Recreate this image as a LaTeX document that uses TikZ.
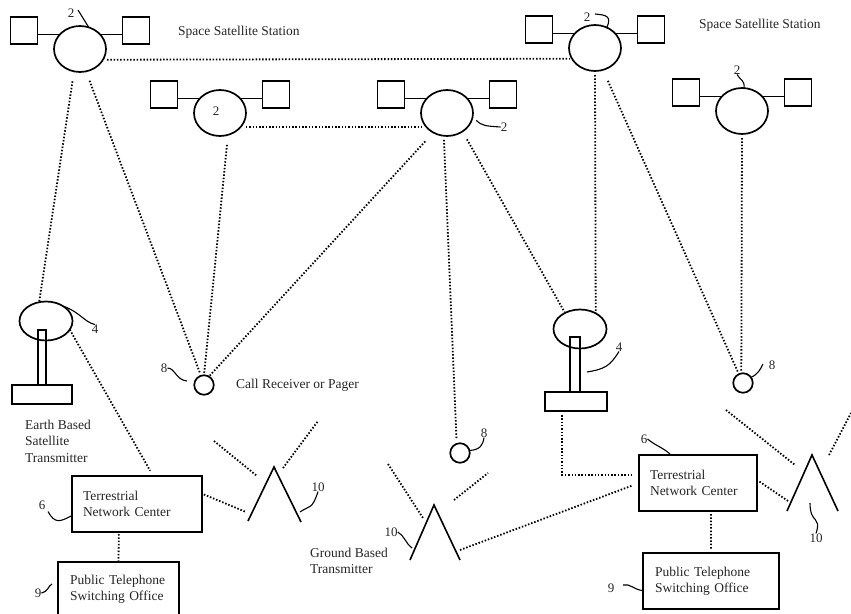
\documentclass[tikz,border=0pt]{standalone}
\usepackage{fontspec}
\setmainfont{Liberation Serif}
\usetikzlibrary{shapes.geometric}
\tikzset{
  solidline/.style={line width=1.7pt,draw=black},
  sat/.style={solidline,ellipse,inner sep=0pt,outer sep=0pt,minimum width=52pt,minimum height=46pt},
  panel/.style={solidline,rectangle,inner sep=0pt,outer sep=0pt,minimum width=27pt,minimum height=27pt},
  dish/.style={solidline,ellipse,inner sep=0pt,outer sep=0pt,minimum width=53pt,minimum height=39pt},
  pager/.style={solidline,circle,inner sep=0pt,outer sep=0pt,minimum size=19.5pt},
  plainbox/.style={solidline,rectangle,inner sep=0pt,outer sep=0pt},
  textbox/.style={plainbox,align=left,font=\fontsize{13.5}{16}\selectfont,text=black!85},
  caption/.style={inner sep=0pt,align=left,font=\fontsize{13.5}{16.5}\selectfont,text=black!85},
  numlabel/.style={inner sep=0pt,font=\fontsize{13}{15}\selectfont,text=black!85},
  leader/.style={line width=1.1pt,draw=black},
  dotlink/.style={line width=1.8pt,draw=black,dash pattern=on 1.5pt off 1.8pt},
  antenna/.style={line width=1.6pt,draw=black},
}
\newcommand{\satgroup}[3]{%
  \node[sat] (s#1) at (#2,#3) {};
  \node[panel] (s#1l) at (#2-56,#3-18.5) {};
  \node[panel] (s#1r) at (#2+56,#3-18.5) {};
  \draw[solidline] (s#1l.-17) -- (s#1l.-17 -| s#1.147);
  \draw[solidline] (s#1r.-163) -- (s#1r.-163 -| s#1.33);
}
\begin{document}
\begin{tikzpicture}[x=1pt,y=-1pt]
\path[use as bounding box,fill=white] (0,0) rectangle (851,613);
\clip (0,0) rectangle (851,613);

% satellites
\satgroup{a}{80}{49}
\satgroup{b}{220}{113}
\satgroup{c}{447}{113}
\satgroup{d}{595}{48}
\satgroup{e}{742}{111}

% dishes
\node[dish] (dish1) at (46,321) {};
\node[plainbox,minimum width=8pt,minimum height=55pt] (mast1) at (42,357.5) {};
\node[plainbox,minimum width=60pt,minimum height=19pt] (base1) at (42,394.5) {};
\node[dish] (dish2) at (580,329) {};
\node[plainbox,minimum width=10pt,minimum height=55pt] (mast2) at (575,364.5) {};
\node[plainbox,minimum width=62pt,minimum height=19pt] (base2) at (576,401.5) {};

% pagers
\node[pager] (pager1) at (204,385) {};
\node[pager] (pager2) at (460,453) {};
\node[pager] (pager3) at (743,383) {};

% boxes
\node[textbox,minimum width=130pt,minimum height=56pt,text width=108pt] (tnc1) at (137,504) {Terrestrial\\Network Center};
\node[textbox,minimum width=121pt,minimum height=54pt,text width=97pt] (pso1) at (118.5,589) {Public Telephone\\Switching Office};
\node[textbox,minimum width=118pt,minimum height=56pt,text width=96pt] (tnc2) at (698,483) {Terrestrial\\Network Center};
\node[textbox,minimum width=136pt,minimum height=56pt,text width=112pt] (pso2) at (711,581) {Public Telephone\\Switching Office};

% antennas
\coordinate (ant1t) at (274,467);
\coordinate (ant1l) at (248,521);
\coordinate (ant1r) at (301,522);
\coordinate (ant2t) at (434,505);
\coordinate (ant2l) at (410,560);
\coordinate (ant2r) at (460,560);
\coordinate (ant3t) at (812,455);
\coordinate (ant3l) at (787,511);
\coordinate (ant3r) at (838,511);
\draw[antenna] (ant1l) -- (ant1t) -- (ant1r);
\draw[antenna] (ant2l) -- (ant2t) -- (ant2r);
\draw[antenna] (ant3l) -- (ant3t) -- (ant3r);

% free ends of links
\coordinate (ant1port) at (246,512);
\coordinate (ant2port) at (460,550);
\coordinate (ant3port) at (788,501);
\coordinate (sig1a) at (214,441);
\coordinate (sig1b) at (257,476);
\coordinate (sig1c) at (283,468);
\coordinate (sig1d) at (318,421);
\coordinate (sig2a) at (388,464);
\coordinate (sig2b) at (423,518);
\coordinate (sig2c) at (454,500);
\coordinate (sig2d) at (488,473);
\coordinate (sig3a) at (726,410);
\coordinate (sig3b) at (795,465);
\coordinate (sig3c) at (829,455);
\coordinate (sig3d) at (851,413);

% dotted links
\draw[dotlink,shorten <=4pt,shorten >=2pt] (sa.-25) -- (sd.-155);
\draw[dotlink,shorten <=5pt,shorten >=5pt] (sb.-33) -- (sc.-147);
\draw[dotlink,shorten <=10pt] (sa.-105) -- (dish1.110);
\draw[dotlink,shorten <=10pt,shorten >=2pt] (sa.-75) -- (pager1.108);
\draw[dotlink,shorten <=10pt,shorten >=1pt] (sb.-70) -- (pager1.90);
\draw[dotlink,shorten <=12pt,shorten >=1pt] (sc.-125) -- (pager1.60);
\draw[dotlink,shorten <=4pt,shorten >=4pt] (sc.-98) -- (pager2.110);
\draw[dotlink,shorten <=9pt,shorten >=1pt] (sc.-50) -- (dish2.133);
\draw[dotlink,shorten <=4pt] (sd.-90) -- (dish2.45);
\draw[dotlink,shorten <=12pt,shorten >=2pt] (sd.-70) -- (pager3.115);
\draw[dotlink,shorten <=4pt,shorten >=1pt] (se.-90) -- (pager3.100);
\draw[dotlink,shorten >=6pt] (dish1.-20) -- (tnc1.60);
\draw[dotlink,shorten <=2pt] (tnc1.9) -- (ant1port);
\draw[dotlink,shorten <=2pt,shorten >=1pt] (tnc1.-123) -- (pso1.90);
\draw[dotlink,shorten <=4pt,shorten >=7pt] (base2.-146) |- (tnc2.172);
\draw[dotlink,shorten >=7pt] (ant2port) -- (tnc2.180);
\draw[dotlink,shorten <=3pt] (tnc2.3) -- (ant3port);
\draw[dotlink,shorten <=3pt,shorten >=3pt] (tnc2.-65) -- (pso2.90);
\draw[dotlink] (sig1a) -- (sig1b);
\draw[dotlink] (sig1c) -- (sig1d);
\draw[dotlink] (sig2a) -- (sig2b);
\draw[dotlink] (sig2c) -- (sig2d);
\draw[dotlink] (sig3a) -- (sig3b);
\draw[dotlink] (sig3c) -- (sig3d);

% captions
\node[caption,anchor=west] (capa) at (178,32) {Space Satellite Station};
\node[caption,anchor=west] (capb) at (699,25) {Space Satellite Station};
\node[caption,anchor=west] (capc) at (236,385) {Call Receiver or Pager};
\node[caption,anchor=west] (capd) at (25,441) {Earth Based\\Satellite\\Transmitter};
\node[caption,anchor=west] (cape) at (310,561) {Ground Based\\Transmitter};

% numbered labels and leaders
\node[numlabel] (la) at (71,13) {2};
\draw[leader] (78,10) -- (sa.68);
\node[numlabel] (lb) at (216,111) {2};
\node[numlabel] (lc) at (504,127) {2};
\draw[leader] (sc.-12) ++(4,2) .. controls (482,126) and (486,126) .. (lc.west);
\node[numlabel] (ld) at (587,17) {2};
\draw[leader] (595,14) .. controls (606,15) and (612,16) .. (sd.60);
\node[numlabel] (le) at (737,70) {2};
\draw[leader] (le.south) .. controls (740,80) and (745,80) .. (se.85);
\node[numlabel] (l4a) at (95,329) {4};
\draw[leader] (dish1.40) .. controls (80,312) and (84,322) .. (l4a.north);
\node[numlabel] (l4b) at (619,347) {4};
\draw[leader] (587,372) .. controls (605,369) and (610,366) .. (l4b.south);
\node[numlabel] (l6a) at (42,505) {6};
\draw[leader] (l6a.south) ++(6,2) .. controls (55,524) and (60,522) .. (tnc1.-170);
\node[numlabel] (l6b) at (644,439) {6};
\draw[leader] (l6b.east) .. controls (656,446) and (664,448) .. (671,455);
\node[numlabel] (l8a) at (164,368) {8};
\draw[leader] (l8a.east) .. controls (175,368) and (176,380) .. (187,381);
\node[numlabel] (l8b) at (484,433) {8};
\draw[leader] (pager2.15) .. controls (480,450) and (483,445) .. (l8b.south);
\node[numlabel] (l8c) at (772,365) {8};
\draw[leader] (pager3.35) .. controls (758,374) and (760,370) .. (763,364);
\node[numlabel] (l9a) at (38,593) {9};
\draw[leader] (l9a.east) .. controls (48,592) and (48,586) .. (52,584);
\node[numlabel] (l9b) at (611,588) {9};
\draw[leader] (623,585) .. controls (630,583) and (634,590) .. (pso2.-172);
\node[numlabel] (l10a) at (318,487) {10};
\draw[leader] (300,512) .. controls (310,505) and (312,510) .. (l10a.south);
\node[numlabel] (l10b) at (391,532) {10};
\draw[leader] (l10b.east) .. controls (404,535) and (406,544) .. (412,548);
\node[numlabel] (l10c) at (816,538) {10};
\draw[leader] (810,503) .. controls (810,525) and (822,515) .. (l10c.north);
\end{tikzpicture}
\end{document}
